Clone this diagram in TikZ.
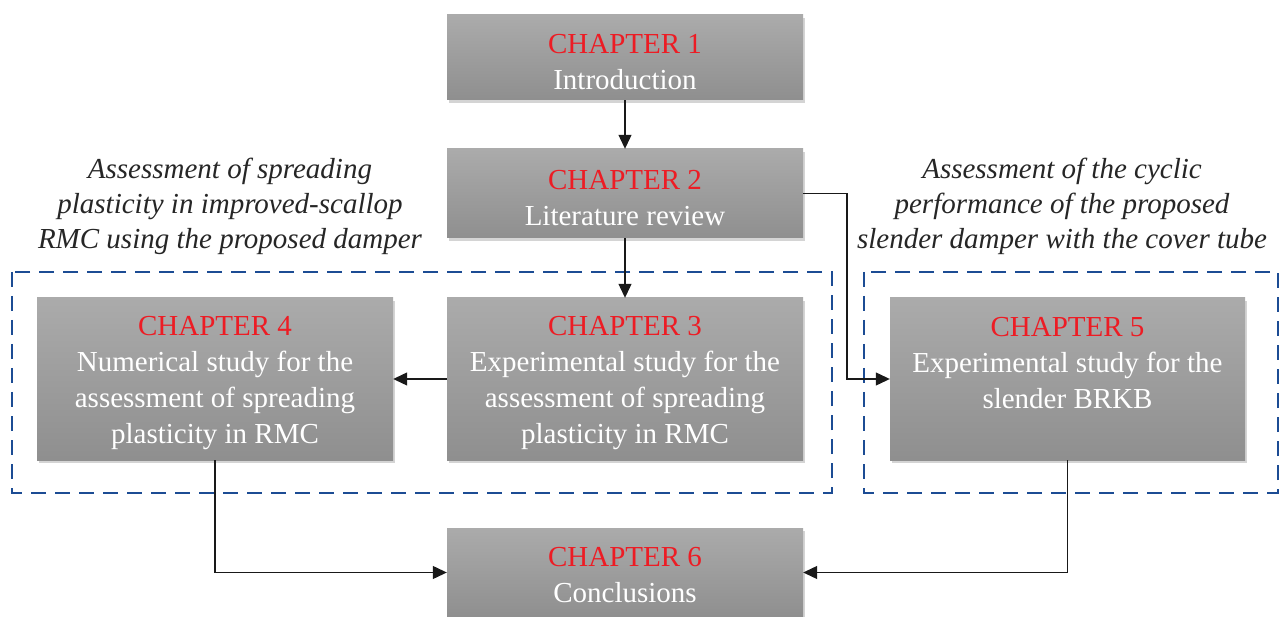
\documentclass[tikz,border=0pt]{standalone}
\usepackage{fontspec}
\setmainfont{Liberation Serif}
\usetikzlibrary{arrows.meta,shadows}
\definecolor{chapred}{RGB}{237,28,36}
\definecolor{dashblue}{RGB}{28,76,148}
\tikzset{
  chbox/.style={rectangle, inner sep=0pt, draw=none,
    top color=black!33, bottom color=black!44,
    drop shadow={shadow xshift=2pt, shadow yshift=-3pt, opacity=0.28, fill=black!60},
    minimum width=356pt},
  chtext/.style={align=center, text=white, inner sep=0pt,
    font=\fontsize{29}{36}\selectfont},
  conn/.style={draw=black!90, line width=1.2pt, -{Triangle[length=14pt,width=13pt]}},
  grp/.style={draw=dashblue, line width=2.4pt, dash pattern=on 15pt off 9pt},
  lab/.style={align=center, font=\fontsize{29}{35}\selectfont\itshape, text=black!85, inner sep=0pt}
}
\newcommand{\chap}[1]{\textcolor{chapred}{CHAPTER #1}}
\begin{document}
\begin{tikzpicture}[x=1pt,y=-1pt]
\clip (0,0) rectangle (1285,617);
\fill[white] (0,0) rectangle (1285,617);
% groups
\draw[grp] (12,272) rectangle (832,493);
\draw[grp] (864,272) rectangle (1278,493);
% boxes
\node[chbox, minimum height=85pt,
  label={[chtext, yshift=-5pt]center:{\chap{1}\\Introduction}}] (c1) at (625,57.5) {};
\node[chbox, minimum height=89pt,
  label={[chtext, yshift=-5pt]center:{\chap{2}\\Literature review}}] (c2) at (625,193.5) {};
\node[chbox, minimum height=162pt,
  label={[chtext, yshift=-4.5pt]center:{\chap{3}\\Experimental study for the\\assessment of spreading\\plasticity in RMC}}] (c3) at (625,379) {};
\node[chbox, minimum height=162pt,
  label={[chtext, yshift=-4.5pt]center:{\chap{4}\\Numerical study for the\\assessment of spreading\\plasticity in RMC}}] (c4) at (215,379) {};
\node[chbox, minimum height=162pt, minimum width=355pt,
  label={[chtext, yshift=16pt]center:{\chap{5}\\Experimental study for the\\slender BRKB}}] (c5) at (1067.5,379) {};
\node[chbox, minimum height=89pt,
  label={[chtext, yshift=-3pt]center:{\chap{6}\\Conclusions}}] (c6) at (625,572.5) {};
% labels
\node[lab] (l1) at (230,206) {Assessment of spreading\\plasticity in improved-scallop\\RMC using the proposed damper};
\node[lab] (l2) at (1062,206) {Assessment of the cyclic\\performance of the proposed\\slender damper with the cover tube};
% connectors
\coordinate (k) at (847,0);
\draw[conn] (c1) -- (c2);
\draw[conn] (c2) -- (c3);
\draw[conn] (c3) -- (c4);
\draw[conn] (c2.east) -- (c2.east -| k) |- (c5.west);
\draw[conn] (c4.south) |- (c6.west);
\draw[conn] (c5.south) |- (c6.east);
\end{tikzpicture}
\end{document}
